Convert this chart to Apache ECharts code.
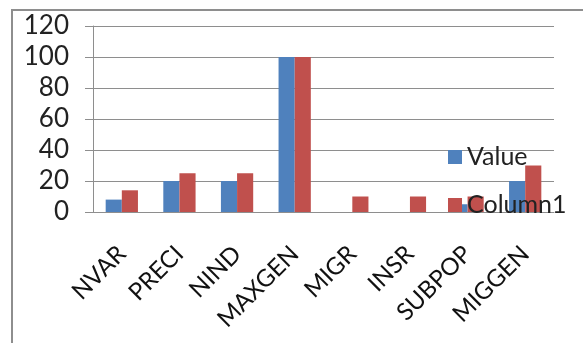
<!DOCTYPE html>
<html>
<head>
<meta charset="utf-8">
<script src="https://cdn.jsdelivr.net/npm/echarts@6/dist/echarts.min.js"></script>
<style>
  body { margin: 0; background: #fff; }
  #frame {
    position: absolute; left: 11px; top: 9px; width: 572px; height: 334px;
    border-left: 2px solid #8e8e8e; border-top: 2px solid #8e8e8e;
  }
  #chart { position: absolute; left: 0; top: 0; width: 583px; height: 343px; }
</style>
</head>
<body>
<div id="frame"></div>
<div id="chart"></div>
<script>
  const categories = ['NVAR', 'PRECI', 'NIND', 'MAXGEN', 'MIGR', 'INSR', 'SUBPOP', 'MIGGEN']
  const valueData = [8, 20, 20, 100, 0, 0, 5, 20]
  const column1Data = [14, 25, 25, 100, 10, 10, 10, 30]

  const chart = echarts.init(document.getElementById('chart'))
  const font = 'Lato, "Open Sans", sans-serif'

  chart.setOption({
    animation: false,
    grid: {left: 93, top: 26, right: 29, bottom: 131},
    legend: {
      orient: 'vertical', left: 443, top: 139,
      itemWidth: 14, itemHeight: 14, itemGap: 22,
      icon: 'rect',
      data: ['Value', 'Column1'],
      textStyle: {fontFamily: font, fontSize: 25, color: '#222', lineHeight: 26}
    },
    xAxis: {
      type: 'category',
      data: categories,
      axisLine: {lineStyle: {color: '#8e8e8e', width: 1}},
      axisTick: {length: 6, lineStyle: {color: '#8e8e8e'}},
      axisLabel: {rotate: 45, margin: 38, fontFamily: font, fontSize: 24, color: '#111', interval: 0}
    },
    yAxis: {
      type: 'value',
      min: 0, max: 120, interval: 20,
      axisLine: {show: true, lineStyle: {color: '#8e8e8e'}},
      axisTick: {show: true, length: 8, lineStyle: {color: '#8e8e8e'}},
      splitLine: {lineStyle: {color: '#8e8e8e'}},
      axisLabel: {margin: 24, fontFamily: font, fontSize: 26, color: '#222'}
    },
    series: [
      {name: 'Value', type: 'bar', data: valueData, barGap: '0%', barCategoryGap: '44%',
        itemStyle: {color: '#4f81bd'}},
      {name: 'Column1', type: 'bar', data: column1Data, barGap: '0%', barCategoryGap: '44%',
        itemStyle: {color: '#c0504d'}}
    ]
  })
</script>
</body>
</html>
